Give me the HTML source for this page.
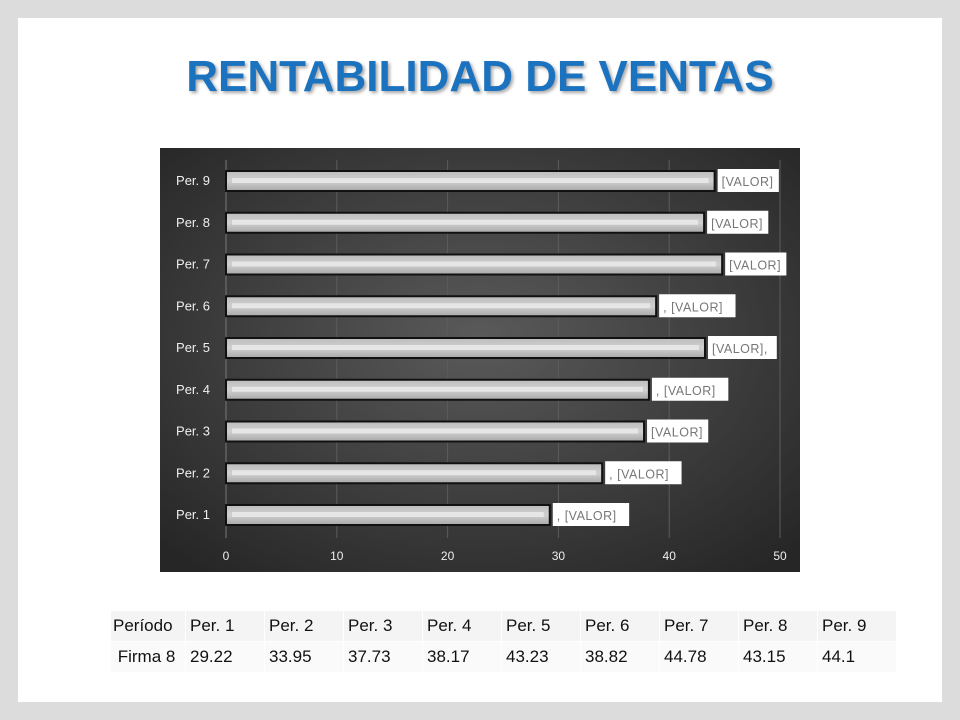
<!DOCTYPE html>
<html><head><meta charset="utf-8"><style>
body{margin:0;width:960px;height:720px;background:#dcdcdc;font-family:"Liberation Sans",sans-serif;position:relative;overflow:hidden}
#slide{position:absolute;left:18px;top:18px;width:924px;height:684px;background:#fff}
#title{position:absolute;left:0;top:52px;width:960px;text-align:center;font-size:44px;font-weight:bold;color:#1b72bf;text-shadow:2px 2px 3px rgba(0,0,0,.35);letter-spacing:0px}
table{position:absolute;left:110px;top:610px;border-collapse:collapse;font-size:17px;color:#111}
td{height:30px;padding:0 0 0 4px;width:74px;background:#f4f4f4;border:1px solid #fff}
tr.r2 td{background:#fafafa}
td.h{width:72px;padding-left:2px}
</style></head><body>
<div id="slide"></div>
<div id="title">RENTABILIDAD DE VENTAS</div>
<svg width="960" height="720" style="position:absolute;left:0;top:0">
<defs>
<radialGradient id="bg" cx="50%" cy="45%" r="70%"><stop offset="0" stop-color="#5a5a5a"/><stop offset="1" stop-color="#262626"/></radialGradient>
<linearGradient id="bar" x1="0" y1="0" x2="0" y2="1"><stop offset="0" stop-color="#bcbcbc"/><stop offset=".5" stop-color="#d0d0d0"/><stop offset="1" stop-color="#a8a8a8"/></linearGradient>
</defs>
<rect x="160" y="148" width="640" height="424" fill="url(#bg)"/>
<g id="grid"></g><g id="bars"></g><g id="labels"></g>
</svg>
<table>
<tr><td class="h">Período</td><td>Per. 1</td><td>Per. 2</td><td>Per. 3</td><td>Per. 4</td><td>Per. 5</td><td>Per. 6</td><td>Per. 7</td><td>Per. 8</td><td>Per. 9</td></tr>
<tr class="r2"><td class="h">&nbsp;Firma 8</td><td>29.22</td><td>33.95</td><td>37.73</td><td>38.17</td><td>43.23</td><td>38.82</td><td>44.78</td><td>43.15</td><td>44.1</td></tr>
</table>
<script>
const categories=["Per. 1","Per. 2","Per. 3","Per. 4","Per. 5","Per. 6","Per. 7","Per. 8","Per. 9"];
const values=[29.22,33.95,37.73,38.17,43.23,38.82,44.78,43.15,44.1];
const labelTexts=[", [VALOR]",", [VALOR]","[VALOR]",", [VALOR]","[VALOR],",", [VALOR]","[VALOR]","[VALOR]","[VALOR]"];
const ticks=[0,10,20,30,40,50];
const NS="http://www.w3.org/2000/svg";
const x=v=>226+v*(780-226)/50;
const y=i=>515-i*41.75;
function mk(t,a,p){const e=document.createElementNS(NS,t);for(const k in a)e.setAttribute(k,a[k]);p.appendChild(e);return e;}
const grid=document.getElementById('grid'),bars=document.getElementById('bars'),labels=document.getElementById('labels');
ticks.forEach(t=>{
 const l=mk('line',{x1:x(t),x2:x(t),y1:160,y2:538,stroke:t===0?'#777':'#5c5c5c','stroke-width':1},grid);
 
 
 const tx=mk('text',{x:x(t),y:560,fill:'#eee','font-size':12,'text-anchor':'middle'},grid);
 tx.textContent=t;
 
 
});
categories.forEach((c,i)=>{
 const cy=y(i);
 const tl=mk('text',{x:210,y:cy+4,fill:'#eee','font-size':13,'text-anchor':'end'},grid);
 tl.textContent=c;
 
 
 const r=mk('rect',{x:x(0),y:cy-10,width:x(values[i])-x(0),height:20,fill:'url(#bar)',stroke:'#111','stroke-width':2},bars);
 
 
 mk('rect',{x:x(0)+6,y:cy-3,width:x(values[i])-x(0)-12,height:5,fill:'#e6e6e6'},bars);
 const w=labelTexts[i].length*7.6+8;
 const lb=mk('rect',{x:x(values[i])+3,y:cy-12,width:w,height:23,fill:'#fff'},labels);
 
 
 const lt=mk('text',{x:x(values[i])+7,y:cy+5,fill:'#777','font-size':12.5,'letter-spacing':'0.5'},labels);
 lt.textContent=labelTexts[i];
 
 
});
</script>
</body></html>
